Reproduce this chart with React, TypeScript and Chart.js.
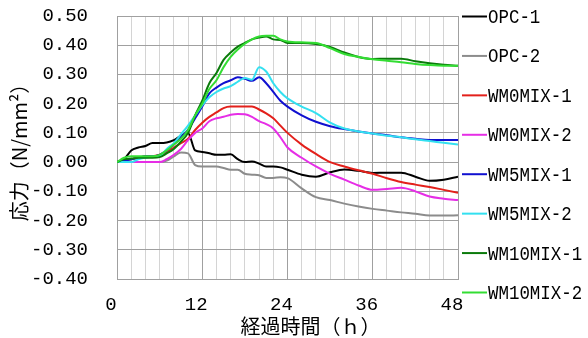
import { useEffect, useRef } from "react";
import { Chart, registerables } from "chart.js";
Chart.register(...registerables);

const hours = [0, 1, 2, 3, 4, 5, 6, 7, 8, 9, 10, 11, 12, 13, 14, 15, 16, 17, 18, 19, 20, 21, 22, 23, 24, 26, 28, 30, 32, 34, 36, 38, 40, 42, 44, 46, 48];

const seriesNames = ["OPC-1", "OPC-2", "WM0MIX-1", "WM0MIX-2", "WM5MIX-1", "WM5MIX-2", "WM10MIX-1", "WM10MIX-2"];

const opc1 = [0, 0.01, 0.04, 0.05, 0.055, 0.065, 0.065, 0.067, 0.075, 0.09, 0.1, 0.04, 0.035, 0.03, 0.025, 0.025, 0.027, 0.01, 0.0, 0.002, -0.005, -0.015, -0.015, -0.018, -0.026, -0.043, -0.05, -0.035, -0.025, -0.03, -0.037, -0.036, -0.036, -0.05, -0.064, -0.06, -0.05];
const opc2 = [0, 0, 0, 0, 0, 0, 0, 0.005, 0.02, 0.033, 0.03, -0.01, -0.015, -0.015, -0.015, -0.02, -0.026, -0.026, -0.04, -0.043, -0.045, -0.054, -0.054, -0.052, -0.055, -0.09, -0.12, -0.13, -0.142, -0.152, -0.16, -0.166, -0.172, -0.177, -0.183, -0.183, -0.182];
const wm0mix1 = [0, 0.005, 0.01, 0.015, 0.02, 0.02, 0.025, 0.035, 0.05, 0.065, 0.08, 0.11, 0.135, 0.155, 0.17, 0.185, 0.19, 0.19, 0.19, 0.19, 0.18, 0.167, 0.15, 0.125, 0.1, 0.06, 0.028, 0.0, -0.015, -0.028, -0.04, -0.055, -0.068, -0.077, -0.085, -0.095, -0.105];
const wm0mix2 = [0, 0, 0, 0, 0, 0, 0, 0.01, 0.025, 0.045, 0.075, 0.1, 0.115, 0.14, 0.15, 0.155, 0.162, 0.165, 0.164, 0.155, 0.14, 0.13, 0.115, 0.085, 0.05, 0.015, -0.015, -0.04, -0.06, -0.08, -0.095, -0.092, -0.088, -0.1, -0.118, -0.125, -0.13];
const wm5mix1 = [0, 0.005, 0.01, 0.015, 0.02, 0.02, 0.025, 0.04, 0.06, 0.085, 0.11, 0.15, 0.19, 0.235, 0.255, 0.27, 0.28, 0.29, 0.285, 0.278, 0.29, 0.27, 0.24, 0.21, 0.19, 0.16, 0.138, 0.123, 0.113, 0.105, 0.098, 0.092, 0.085, 0.08, 0.076, 0.076, 0.076];
const wm5mix2 = [0, 0, 0, 0.01, 0.015, 0.018, 0.02, 0.045, 0.065, 0.095, 0.125, 0.16, 0.195, 0.222, 0.24, 0.252, 0.26, 0.275, 0.288, 0.282, 0.325, 0.31, 0.27, 0.24, 0.218, 0.19, 0.168, 0.135, 0.115, 0.105, 0.098, 0.09, 0.085, 0.078, 0.072, 0.066, 0.06];
const wm10mix1 = [0, 0.01, 0.012, 0.015, 0.015, 0.015, 0.017, 0.03, 0.045, 0.07, 0.1, 0.16, 0.21, 0.27, 0.305, 0.35, 0.375, 0.395, 0.408, 0.42, 0.426, 0.43, 0.42, 0.418, 0.408, 0.408, 0.404, 0.394, 0.375, 0.36, 0.353, 0.354, 0.354, 0.345, 0.338, 0.333, 0.33];
const wm10mix2 = [0, 0.015, 0.02, 0.02, 0.02, 0.02, 0.025, 0.04, 0.06, 0.08, 0.11, 0.16, 0.2, 0.25, 0.28, 0.325, 0.36, 0.385, 0.405, 0.42, 0.43, 0.432, 0.432, 0.42, 0.413, 0.41, 0.408, 0.39, 0.37, 0.36, 0.352, 0.347, 0.342, 0.336, 0.332, 0.33, 0.33];

const seriesValues = [opc1, opc2, wm0mix1, wm0mix2, wm5mix1, wm5mix2, wm10mix1, wm10mix2];
const seriesColors = ["#000000", "#8c8c8c", "#e3201b", "#e62ee6", "#1010d0", "#33e0f0", "#0a7a0a", "#33dd33"];

const xTickLabels = [0, 12, 24, 36, 48];
const xTitle = "経過時間（ｈ）";
const yTitle = "応力（N/mm²）";

const overlay = {
  id: "overlay",
  afterDraw(chart: any) {
    const ctx = chart.ctx as CanvasRenderingContext2D;
    const area = chart.chartArea;
    ctx.save();
    const step = (area.bottom + 13 - area.top) / 7;
    chart.data.datasets.forEach((ds: any, i: number) => {
      const y = area.top + 0.5 + i * step;
      ctx.strokeStyle = ds.borderColor;
      ctx.lineWidth = 2;
      ctx.beginPath();
      ctx.moveTo(area.right + 4, y);
      ctx.lineTo(area.right + 29, y);
      ctx.stroke();
      ctx.save();
      ctx.translate(area.right + 30, y + 1);
      ctx.scale(0.83, 1);
      ctx.font = '21px "Liberation Mono"';
      ctx.textBaseline = "middle";
      ctx.textAlign = "left";
      ctx.fillStyle = "#000";
      ctx.fillText(ds.label, 0, 0);
      ctx.restore();
    });
    ctx.fillStyle = "#000";
    ctx.font = '20px "Noto Sans CJK JP"';
    ctx.textAlign = "center";
    ctx.textBaseline = "middle";
    ctx.fillText(xTitle, (area.left + area.right) / 2 + 23, 326);
    ctx.save();
    ctx.translate(19, (area.top + area.bottom) / 2);
    ctx.rotate(-Math.PI / 2);
    ctx.font = '20px "Noto Sans CJK JP"';
    ctx.fillText(yTitle, 0, 0);
    ctx.restore();
    ctx.restore();
  },
};

export default function App() {
  const ref = useRef<HTMLCanvasElement>(null);
  useEffect(() => {
    const datasets = seriesNames.map((name, i) => ({
      label: name,
      data: hours.map((h, j) => ({ x: h, y: seriesValues[i][j] })),
      borderColor: seriesColors[i],
      backgroundColor: seriesColors[i],
      borderWidth: 2,
      pointRadius: 0,
      cubicInterpolationMode: "monotone" as const,
      fill: false,
      order: -i,
    }));
    const chart = new Chart(ref.current as HTMLCanvasElement, {
      type: "line",
      data: { datasets },
      plugins: [overlay],
      options: {
        animation: false,
        responsive: false,
        layout: { padding: { left: 0, right: 130, top: 16, bottom: 0 } },
        plugins: { legend: { display: false }, tooltip: { enabled: false } },
        scales: {
          x: {
            type: "linear",
            min: 0,
            max: 48,
            afterFit: (s: any) => {
              s.height = 59;
            },
            afterBuildTicks: (s: any) => {
              const t = [];
              for (let v = 0; v <= 48; v += 2) t.push({ value: v });
              s.ticks = t;
            },
            ticks: {
              autoSkip: false,
              maxRotation: 0,
              padding: 0,
              labelOffset: -6,
              color: "#000",
              font: { family: "Liberation Mono", size: 19 },
              callback: (v: any) => (xTickLabels.includes(Number(v)) ? String(v) : ""),
            },
            grid: {
              drawTicks: true,
              tickLength: 15,
              tickColor: "rgba(0,0,0,0)",
              color: (c: any) => (c.tick && c.tick.value % 12 === 0 ? "#a0a0a0" : "#d4d4d4"),
              lineWidth: 1,
            },
            border: { color: "#a0a0a0" },
          },
          y: {
            min: -0.4,
            max: 0.5,
            afterFit: (s: any) => {
              s.width = 117;
            },
            ticks: {
              stepSize: 0.1,
              padding: 0,
              color: "#000",
              font: { family: "Liberation Mono", size: 19 },
              callback: (v: any) => Number(v).toFixed(2),
            },
            grid: {
              drawTicks: true,
              tickLength: 29,
              tickColor: "rgba(0,0,0,0)",
              color: "#a0a0a0",
              lineWidth: 1,
            },
            border: { color: "#a0a0a0" },
          },
        },
      },
    });
    return () => chart.destroy();
  }, []);
  return (
    <div style={{ position: "absolute", left: 0, top: 0, width: 588, height: 338, background: "#fff" }}>
      <canvas ref={ref} width={588} height={338} style={{ display: "block" }} />
    </div>
  );
}
